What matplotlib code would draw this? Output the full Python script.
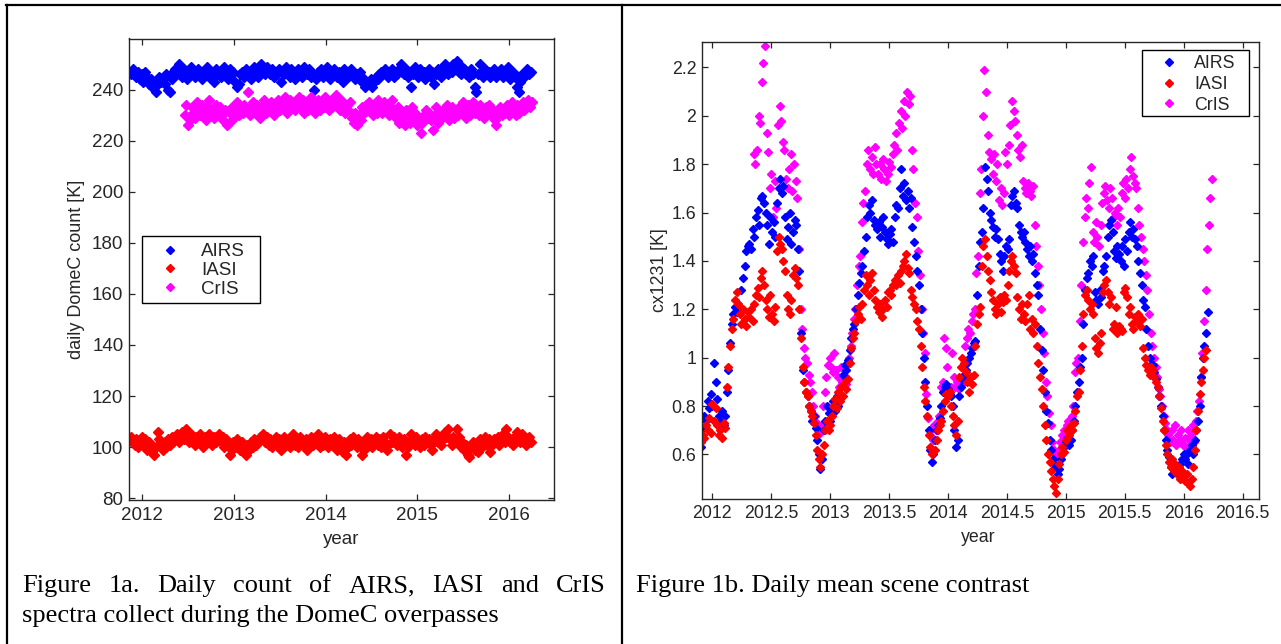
import numpy as np
import matplotlib.pyplot as plt
from matplotlib.lines import Line2D
from matplotlib.patches import Rectangle

plt.rcParams['font.family'] = ['Liberation Sans', 'DejaVu Sans']

# ---------------- Figure 1a: daily DomeC counts (one value per week)
airs_count = [
    247, 246, 248, 246, 245, 247, 244, 246, 243, 247, 245, 242, 244, 241, 243, 239, 242, 245, 243, 244, 242, 246, 240, 239, 244, 247,
    248, 246, 250, 247, 245, 248, 246, 244, 247, 249, 246, 245, 247, 248, 246, 244, 247, 246, 249, 245, 247, 246, 243, 248, 246, 247,
    245, 247, 249, 246, 244, 248, 246, 247, 243, 241, 242, 246, 247, 245, 248, 246, 247, 244, 246, 249, 247, 245, 248, 250, 247, 246,
    249, 247, 246, 248, 245, 247, 246, 248, 243, 247, 246, 249, 247, 245, 248, 246, 244, 247, 248, 246, 245, 249, 247, 246, 248, 245,
    246, 240, 244, 247, 246, 248, 245, 247, 249, 246, 244, 247, 248, 246, 245, 247, 246, 243, 248, 247, 245, 246, 248, 247, 244, 246,
    245, 247, 243, 244, 241, 243, 242, 244, 241, 243, 245, 244, 246, 247, 246, 248, 247, 245, 246, 248, 245, 247, 246, 248, 250, 247,
    246, 248, 245, 247, 241, 246, 249, 247, 245, 248, 246, 247, 244, 246, 248, 245, 247, 242, 246, 248, 247, 245, 249, 250, 247, 246,
    248, 247, 250, 249, 251, 247, 246, 249, 248, 246, 247, 245, 248, 246, 241, 239, 246, 250, 247, 245, 248, 246, 247, 245, 246, 248,
    245, 247, 246, 248, 245, 247, 246, 249, 244, 246, 247, 245, 241, 239, 243, 246, 245, 247, 248, 246, 247]
iasi_count = [
    103, 104, 102, 101, 103, 100, 102, 104, 101, 103, 99, 102, 101, 98, 97, 100, 106, 103, 101, 99, 102, 100, 103, 101, 104, 102,
    103, 105, 102, 104, 106, 103, 107, 104, 102, 105, 103, 101, 104, 102, 105, 103, 100, 104, 102, 105, 103, 101, 104, 102, 103, 105,
    102, 104, 100, 103, 101, 97, 99, 102, 100, 103, 101, 99, 102, 100, 97, 101, 99, 102, 100, 103, 101, 102, 104, 103, 105, 102,
    104, 101, 103, 100, 102, 104, 101, 103, 99, 102, 104, 101, 103, 100, 102, 105, 101, 103, 100, 104, 102, 101, 103, 99, 102, 104,
    101, 103, 102, 105, 100, 103, 101, 104, 102, 100, 103, 101, 104, 102, 99, 103, 101, 98, 102, 97, 100, 103, 101, 104, 102, 100,
    103, 101, 97, 99, 102, 104, 101, 103, 100, 102, 104, 101, 103, 100, 104, 102, 99, 101, 105, 102, 104, 103, 101, 104, 102, 100,
    103, 97, 100, 102, 105, 103, 101, 104, 102, 100, 103, 101, 104, 102, 103, 101, 99, 103, 105, 102, 104, 101, 103, 106, 104, 107,
    103, 101, 104, 102, 107, 104, 100, 102, 99, 101, 97, 96, 100, 102, 99, 101, 98, 103, 100, 102, 104, 101, 103, 98, 101, 103,
    102, 104, 101, 103, 105, 102, 107, 104, 102, 103, 101, 104, 106, 103, 102, 105, 103, 101, 102, 104, 102]
cris_count = [
    230, 234, 226, 228, 233, 231, 229, 235, 232, 230, 234, 231, 228, 233, 236, 230, 232, 229, 234, 231, 233, 230, 228, 232, 226, 227,
    231, 233, 229, 232, 235, 230, 233, 231, 234, 232, 239, 230, 233, 235, 231, 234, 232, 229, 233, 236, 231, 234, 232, 235, 233, 230,
    234, 236, 232, 235, 233, 237, 231, 234, 236, 233, 235, 232, 234, 237, 233, 236, 231, 234, 232, 235, 237, 233, 231, 234, 236, 232,
    235, 233, 237, 234, 232, 236, 233, 235, 238, 234, 232, 236, 233, 231, 234, 232, 235, 229, 227, 231, 226, 230, 228, 233, 231, 234,
    232, 235, 233, 230, 234, 231, 236, 233, 231, 235, 232, 234, 230, 233, 236, 231, 229, 233, 227, 231, 229, 226, 232, 230, 227, 233,
    229, 231, 226, 228, 223, 227, 230, 232, 229, 231, 228, 224, 230, 233, 227, 231, 229, 232, 230, 234, 228, 231, 233, 229, 232, 230,
    233, 231, 235, 232, 229, 234, 230, 232, 235, 231, 233, 230, 234, 232, 229, 233, 231, 234, 230, 232, 228, 226, 231, 233, 230, 232,
    231, 234, 230, 233, 235, 232, 230, 234, 231, 233, 235, 232, 234, 236, 233, 235]
a_start = 2011.866       # first AIRS/IASI day
a_cris_start = 2012.466  # first CrIS day
a_step = 7 / 365.25

# ---------------- Figure 1b: daily mean scene contrast (one value per 5 days)
airs_cx = [
    0.63, 0.71, 0.76, 0.74, 0.82, 0.79, 0.85, 0.80, 0.98, 0.90,
    0.83, 0.76, 0.74, 0.78, 0.72, 0.76, 0.86, 0.95, 1.06, 1.14,
    1.18, 1.21, 1.19, 1.22, 1.20, 1.28, 1.33, 1.38, 1.44, 1.46,
    1.47, 1.45, 1.53, 1.50, 1.58, 1.61, 1.55, 1.66, 1.67, 1.64,
    1.60, 1.55, 1.47, 1.58, 1.52, 1.56, 1.50, 1.64, 1.70, 1.74,
    1.68, 1.71, 1.58, 1.49, 1.54, 1.60, 1.47, 1.52, 1.57, 1.55,
    1.45, 1.36, 1.10, 0.95, 0.90, 0.86, 0.84, 0.80, 0.78, 0.74,
    0.76, 0.71, 0.66, 0.60, 0.54, 0.58, 0.70, 0.74, 0.80, 0.77,
    0.74, 0.79, 0.82, 0.78, 0.84, 0.80, 0.85, 0.88, 0.93, 0.97,
    0.95, 0.99, 1.03, 1.08, 1.12, 1.14, 1.20, 1.26, 1.31, 1.35,
    1.38, 1.44, 1.50, 1.58, 1.63, 1.60, 1.65, 1.57, 1.55, 1.53,
    1.56, 1.50, 1.54, 1.58, 1.52, 1.49, 1.47, 1.51, 1.53, 1.48,
    1.58, 1.63, 1.62, 1.70, 1.78, 1.67, 1.72, 1.65, 1.69, 1.62,
    1.66, 1.54, 1.48, 1.42, 1.36, 1.30, 1.20, 1.10, 1.00, 0.90,
    0.80, 0.70, 0.62, 0.57, 0.60, 0.66, 0.70, 0.72, 0.75, 0.80,
    0.86, 0.88, 0.89, 0.87, 0.85, 0.84, 0.80, 0.70, 0.63, 0.66,
    0.84, 0.88, 0.91, 0.93, 0.95, 0.98, 1.00, 1.02, 1.04, 1.06,
    1.07, 1.26, 1.38, 1.48, 1.52, 1.62, 1.79, 1.74, 1.69, 1.60,
    1.57, 1.54, 1.50, 1.53, 1.49, 1.43, 1.40, 1.36, 1.42, 1.46,
    1.45, 1.49, 1.63, 1.67, 1.69, 1.64, 1.62, 1.55, 1.52, 1.50,
    1.52, 1.48, 1.45, 1.42, 1.46, 1.40, 1.43, 1.35, 1.30, 1.26,
    1.12, 1.03, 0.95, 0.86, 0.78, 0.73, 0.66, 0.62, 0.58, 0.56,
    0.55, 0.52, 0.54, 0.58, 0.60, 0.63, 0.65, 0.67, 0.64, 0.66,
    0.70, 0.74, 0.80, 0.86, 0.90, 0.96, 1.00, 1.14, 1.28, 1.33,
    1.35, 1.40, 1.38, 1.42, 1.27, 1.24, 1.22, 1.28, 1.25, 1.36,
    1.38, 1.42, 1.50, 1.55, 1.57, 1.52, 1.44, 1.41, 1.46, 1.43,
    1.40, 1.46, 1.38, 1.49, 1.44, 1.52, 1.56, 1.50, 1.53, 1.49,
    1.46, 1.40, 1.35, 1.30, 1.24, 1.21, 1.12, 1.05, 1.00, 0.97,
    0.97, 0.94, 0.91, 0.88, 0.84, 0.80, 0.76, 0.70, 0.66, 0.62,
    0.59, 0.55, 0.52, 0.54, 0.53, 0.55, 0.52, 0.56, 0.58, 0.60,
    0.58, 0.60, 0.56, 0.62, 0.64, 0.60, 0.66, 0.70, 0.74, 0.80,
    0.92, 1.00, 1.05, 1.10, 1.19]
iasi_cx = [
    0.65, 0.68, 0.67, 0.72, 0.70, 0.75, 0.69, 0.81, 0.74, 0.79,
    0.72, 0.68, 0.70, 0.67, 0.73, 0.71, 0.88, 0.96, 1.05, 1.12,
    1.16, 1.24, 1.27, 1.22, 1.18, 1.14, 1.20, 1.16, 1.13, 1.19,
    1.17, 1.20, 1.15, 1.22, 1.26, 1.29, 1.25, 1.33, 1.36, 1.30,
    1.24, 1.20, 1.17, 1.26, 1.18, 1.15, 1.21, 1.44, 1.50, 1.47,
    1.45, 1.40, 1.36, 1.26, 1.20, 1.18, 1.24, 1.34, 1.37, 1.33,
    1.30, 1.20, 1.08, 0.96, 0.90, 0.86, 0.84, 0.80, 0.78, 0.76,
    0.73, 0.68, 0.62, 0.58, 0.55, 0.60, 0.64, 0.70, 0.74, 0.70,
    0.72, 0.76, 0.80, 0.83, 0.79, 0.86, 0.82, 0.88, 0.84, 0.90,
    0.87, 0.91, 0.98, 1.04, 1.08, 1.10, 1.15, 1.18, 1.21, 1.16,
    1.22, 1.28, 1.34, 1.30, 1.26, 1.32, 1.35, 1.28, 1.24, 1.21,
    1.19, 1.22, 1.17, 1.20, 1.24, 1.21, 1.27, 1.28, 1.26, 1.30,
    1.32, 1.30, 1.34, 1.31, 1.36, 1.38, 1.40, 1.43, 1.37, 1.35,
    1.28, 1.25, 1.22, 1.20, 1.15, 1.12, 1.05, 0.96, 0.88, 0.82,
    0.76, 0.68, 0.63, 0.60, 0.61, 0.62, 0.66, 0.70, 0.72, 0.74,
    0.78, 0.82, 0.85, 0.84, 0.86, 0.80, 0.76, 0.72, 0.68, 0.74,
    0.92, 0.96, 1.00, 0.98, 0.94, 0.90, 0.86, 0.92, 0.89, 0.93,
    1.05, 1.14, 1.18, 1.21, 1.38, 1.46, 1.49, 1.42, 1.36, 1.32,
    1.27, 1.24, 1.20, 1.18, 1.22, 1.25, 1.19, 1.23, 1.26, 1.24,
    1.30, 1.36, 1.40, 1.42, 1.38, 1.35, 1.25, 1.20, 1.16, 1.22,
    1.18, 1.15, 1.22, 1.26, 1.12, 1.16, 1.10, 1.14, 1.05, 0.98,
    0.92, 0.87, 0.80, 0.72, 0.66, 0.60, 0.57, 0.53, 0.50, 0.47,
    0.44, 0.50, 0.56, 0.60, 0.63, 0.61, 0.66, 0.70, 0.68, 0.72,
    0.70, 0.73, 0.78, 0.84, 0.86, 0.95, 1.05, 1.18, 1.26, 1.28,
    1.24, 1.20, 1.22, 1.18, 1.08, 1.04, 1.02, 1.06, 1.10, 1.27,
    1.30, 1.32, 1.27, 1.22, 1.25, 1.12, 1.14, 1.21, 1.10, 1.13,
    1.12, 1.11, 1.27, 1.29, 1.25, 1.18, 1.21, 1.14, 1.12, 1.17,
    1.15, 1.18, 1.13, 1.16, 1.04, 1.00, 0.97, 0.95, 0.93, 0.96,
    0.95, 0.92, 0.90, 0.88, 0.84, 0.79, 0.74, 0.70, 0.64, 0.60,
    0.57, 0.55, 0.58, 0.53, 0.56, 0.52, 0.55, 0.50, 0.53, 0.51,
    0.49, 0.52, 0.48, 0.47, 0.50, 0.55, 0.62, 0.70, 0.78, 0.85,
    0.90, 0.95, 1.00, 1.03]
cris_cx = [
    1.84, 1.80, 1.86, 2.00, 1.97, 2.14, 2.22,
    2.29, 1.93, 1.85, 1.70, 1.76, 1.58, 1.73, 1.62, 1.96, 2.04,
    1.98, 1.89, 1.86, 1.74, 1.70, 1.78, 1.84, 1.69, 1.80, 1.73,
    1.66, 1.45, 1.20, 1.12, 1.04, 1.00, 0.98, 0.93, 0.90, 0.86,
    0.80, 0.76, 0.73, 0.70, 0.69, 0.72, 0.80, 0.86, 0.92, 0.97,
    1.00, 0.96, 0.94, 1.02, 0.95, 0.92, 0.88, 0.96, 0.90, 0.93,
    0.89, 0.97, 1.00, 1.05, 1.10, 1.16, 1.20, 1.30, 1.38, 1.42,
    1.56, 1.64, 1.69, 1.80, 1.86, 1.78, 1.83, 1.76, 1.87, 1.80,
    1.76, 1.80, 1.74, 1.82, 1.78, 1.73, 1.76, 1.81, 1.79, 1.84,
    1.88, 1.93, 1.86, 1.97, 2.02, 1.95, 2.06, 2.00, 2.10, 2.05,
    2.08, 1.86, 1.78, 1.64, 1.58, 1.44, 1.34, 1.20, 1.10, 1.02,
    0.85, 0.75, 0.68, 0.70, 0.66, 0.72, 0.70, 0.74, 0.76, 0.88,
    0.90, 1.08, 1.04, 0.96, 0.85, 0.88, 1.02, 0.92, 0.88, 0.90,
    0.87, 0.91, 0.89, 0.93, 1.05, 1.08, 1.12, 1.10, 1.15, 1.18,
    1.20, 1.35, 1.42, 1.68, 1.78, 2.00, 2.19, 2.10, 1.92, 1.85,
    1.82, 1.76, 1.84, 1.73, 1.80, 1.65, 1.70, 1.63, 1.68, 1.85,
    1.80, 1.88, 1.96, 2.06, 2.02, 1.98, 1.92, 1.86, 1.83, 1.88,
    1.73, 1.70, 1.68, 1.72, 1.69, 1.67, 1.71, 1.55, 1.46, 1.38,
    1.30, 1.20, 1.10, 1.02, 0.90, 0.84, 0.77, 0.72, 0.65, 0.62,
    0.60, 0.58, 0.62, 0.65, 0.68, 0.70, 0.66, 0.72, 0.74, 0.70,
    0.76, 0.80, 0.94, 0.98, 1.00, 1.15, 1.30, 1.48, 1.58, 1.66,
    1.62, 1.72, 1.79, 1.52, 1.48, 1.56, 1.50, 1.46, 1.55, 1.64,
    1.68, 1.71, 1.65, 1.62, 1.70, 1.66, 1.58, 1.60, 1.55, 1.62,
    1.58, 1.68, 1.72, 1.66, 1.74, 1.70, 1.78, 1.83, 1.75, 1.72,
    1.70, 1.62, 1.55, 1.50, 1.45, 1.40, 1.34, 1.28, 1.18, 1.10,
    1.05, 1.00, 0.96, 0.92, 0.87, 0.84, 0.80, 0.76, 0.73, 0.70,
    0.68, 0.65, 0.70, 0.66, 0.72, 0.64, 0.68, 0.66, 0.70, 0.64,
    0.67, 0.63, 0.70, 0.66, 0.68, 0.72, 0.65, 0.74, 0.78, 0.82,
    0.92, 1.02, 1.15, 1.28, 1.45, 1.55, 1.66, 1.74]
b_start = 2011.905
b_cris_start = 2012.352
b_step = 5 / 365.25

sensors = ['AIRS', 'IASI', 'CrIS']
colors = {'AIRS': '#0000ff', 'IASI': '#ff0000', 'CrIS': '#ff00ff'}

a_xticks = [2012, 2013, 2014, 2015, 2016]
a_yticks = [80, 100, 120, 140, 160, 180, 200, 220, 240]
b_xticks = [2012, 2012.5, 2013, 2013.5, 2014, 2014.5, 2015, 2015.5, 2016, 2016.5]
b_xticklabels = ['2012', '2012.5', '2013', '2013.5', '2014', '2014.5', '2015', '2015.5', '2016', '2016.5']
b_yticks = [0.6, 0.8, 1.0, 1.2, 1.4, 1.6, 1.8, 2.0, 2.2]
b_yticklabels = ['0.6', '0.8', '1', '1.2', '1.4', '1.6', '1.8', '2', '2.2']

W, H = 1281, 644
def fx(px):
    return px / W
def fy(py):
    return 1 - py / H

fig = plt.figure(figsize=(W / 100, H / 100), dpi=100)
fig.patch.set_facecolor('white')
ink = '#262626'

def style_axes(ax, size):
    for s in ax.spines.values():
        s.set_color(ink)
        s.set_linewidth(1.0)
    ax.tick_params(direction='in', length=4, width=0.9, color=ink, top=True, right=True,
                   labelsize=size, labelcolor=ink)
    ax.tick_params(axis='x', pad=5)
    ax.tick_params(axis='y', pad=4)

# ---- left panel
ax1 = fig.add_axes([fx(129), fy(500), (553.9 - 129) / W, (500 - 38.5) / H])
a_year = a_start + a_step * np.arange(len(airs_count))
a_cris_year = a_cris_start + a_step * np.arange(len(cris_count))
ax1.plot(a_year, airs_count, ls='none', marker='D', ms=5.4, color=colors['AIRS'])
ax1.plot(a_year, iasi_count, ls='none', marker='D', ms=5.4, color=colors['IASI'])
ax1.plot(a_cris_year, cris_count, ls='none', marker='D', ms=5.4, color=colors['CrIS'])
ax1.set_xlim(2011.862, 2016.485)
ax1.set_ylim(79.3, 260)
ax1.set_xticks(a_xticks)
ax1.set_yticks(a_yticks)
style_axes(ax1, 13.5)
ax1.set_xlabel('year', fontsize=13.5, color=ink, va='center')
ax1.xaxis.set_label_coords(fx(341), fy(540), transform=fig.transFigure)
ax1.set_ylabel('daily DomeC count [K]', fontsize=13, color=ink, va='center')
ax1.yaxis.set_label_coords(fx(76.5), fy(269), transform=fig.transFigure)

handles = [Line2D([], [], ls='none', marker='D', ms=3.8, color=colors[s]) for s in sensors]
ax1.legend(handles, sensors, loc='upper left', bbox_to_anchor=(fx(160), fy(243)),
           bbox_transform=fig.transFigure, frameon=False, borderpad=0, borderaxespad=0,
           handlelength=1.07, handletextpad=1.12, labelspacing=0.09, fontsize=13.5,
           labelcolor=ink)
fig.add_artist(Rectangle((fx(141.6), fy(303)), (260 - 141.6) / W, (303 - 236) / H,
                         transform=fig.transFigure, fill=False, ec='black', lw=1.0))

# ---- right panel
ax2 = fig.add_axes([fx(702), fy(498.5), (1258.7 - 702) / W, (498.5 - 41.7) / H])
b_year = b_start + b_step * np.arange(len(airs_cx))
b_iasi_year = b_start + b_step * np.arange(len(iasi_cx))
b_cris_year = b_cris_start + b_step * np.arange(len(cris_cx))
ax2.plot(b_cris_year, cris_cx, ls='none', marker='D', ms=4.4, color=colors['CrIS'])
ax2.plot(b_year, airs_cx, ls='none', marker='D', ms=4.4, color=colors['AIRS'])
ax2.plot(b_iasi_year, iasi_cx, ls='none', marker='D', ms=4.4, color=colors['IASI'])
ax2.set_xlim(2011.913, 2016.636)
ax2.set_ylim(0.418, 2.306)
ax2.set_xticks(b_xticks)
ax2.set_xticklabels(b_xticklabels)
ax2.set_yticks(b_yticks)
ax2.set_yticklabels(b_yticklabels)
style_axes(ax2, 12.8)
ax2.set_xlabel('year', fontsize=12.8, color=ink, va='center')
ax2.xaxis.set_label_coords(fx(978), fy(537), transform=fig.transFigure)
ax2.set_ylabel('cx1231 [K]', fontsize=12.8, color=ink, va='center')
ax2.yaxis.set_label_coords(fx(660), fy(270), transform=fig.transFigure)

ax2.legend(handles, sensors, loc='upper left', bbox_to_anchor=(fx(1159), fy(55.5)),
           bbox_transform=fig.transFigure, frameon=False, borderpad=0, borderaxespad=0,
           handlelength=1.11, handletextpad=0.88, labelspacing=0.2, fontsize=12.8,
           labelcolor=ink)
fig.add_artist(Rectangle((fx(1142), fy(116)), (1249 - 1142) / W, (116 - 50) / H,
                         transform=fig.transFigure, fill=False, ec='black', lw=1.0))

# ---- table borders
for xs, ys in [([6, W], [5, 5]), ([7, 7], [5, H]), ([621.5, 621.5], [5, H])]:
    fig.add_artist(Line2D([fx(x) for x in xs], [fy(y) for y in ys], transform=fig.transFigure,
                          color='black', lw=1.6))

# ---- captions
serif = ['Liberation Serif', 'DejaVu Serif']
cap_size = 19
renderer = fig.canvas.get_renderer()

def justified(words, x0, x1, y):
    texts = [fig.text(0, fy(y), w, fontsize=cap_size, family=serif, va='baseline') for w in words]
    widths = [t.get_window_extent(renderer).width for t in texts]
    gap = (x1 - x0 - sum(widths)) / (len(words) - 1)
    x = x0
    for t, w in zip(texts, widths):
        t.set_x(fx(x))
        x += w + gap

justified('Figure 1a. Daily count of AIRS, IASI and CrIS'.split(), 22, 606, 592)
fig.text(fx(22), fy(622), 'spectra collect during the DomeC overpasses', fontsize=cap_size,
         family=serif, va='baseline')
fig.text(fx(636), fy(592), 'Figure 1b. Daily mean scene contrast', fontsize=cap_size,
         family=serif, va='baseline')

fig.savefig('out.png', dpi=100)
